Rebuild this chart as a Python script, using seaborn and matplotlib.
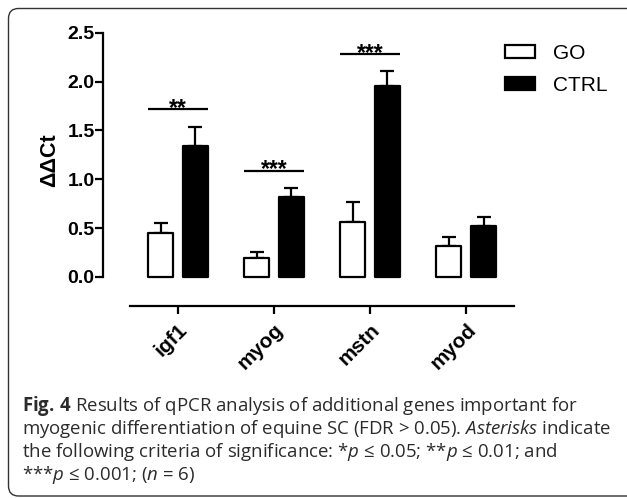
import matplotlib
matplotlib.use("Agg")
import matplotlib.pyplot as plt
import matplotlib.transforms as mtransforms
from matplotlib.patches import FancyBboxPatch, Patch
import seaborn as sns
import pandas as pd

# values
genes = ["igf1", "myog", "mstn", "myod"]
groups = ["GO", "CTRL"]
go_mean = [0.45, 0.195, 0.56, 0.32]
go_sem = [0.10, 0.065, 0.21, 0.09]
ctrl_mean = [1.34, 0.82, 1.95, 0.52]
ctrl_sem = [0.20, 0.09, 0.16, 0.09]
sig_genes = ["igf1", "myog", "mstn"]
sig_heights = [1.72, 1.09, 2.28]
sig_labels = ["**", "***", "***"]
y_ticks = [0.0, 0.5, 1.0, 1.5, 2.0, 2.5]

caption_lines = [
    r"$\mathbf{Fig.\,4}$ Results of qPCR analysis of additional genes important for",
    r"myogenic differentiation of equine SC (FDR > 0.05). $\mathit{Asterisks}$ indicate",
    r"the following criteria of significance: *$p$ ≤ 0.05; **$p$ ≤ 0.01; and",
    r"***$p$ ≤ 0.001; ($n$ = 6)",
]

colors = {"GO": "white", "CTRL": "black"}

df = pd.DataFrame({
    "gene": genes * 2,
    "group": ["GO"] * len(genes) + ["CTRL"] * len(genes),
    "value": go_mean + ctrl_mean,
})

sns.set_style("ticks")
plt.rcParams["font.family"] = ["Liberation Sans", "DejaVu Sans"]
plt.rcParams.update({
    "text.color": "black", "axes.labelcolor": "black",
    "xtick.color": "black", "ytick.color": "black", "axes.edgecolor": "black",
    "mathtext.fontset": "custom", "mathtext.rm": "Open Sans",
    "mathtext.it": "Open Sans:italic", "mathtext.bf": "Open Sans:bold",
})

W, H = 627, 498
fig = plt.figure(figsize=(W / 100, H / 100), dpi=100)
ax = fig.add_axes([103 / W, 1 - 306 / H, (620 - 103) / W, (306 - 23) / H])

sns.barplot(data=df, x="gene", y="value", hue="group", order=genes, hue_order=groups,
            palette=colors, saturation=1, edgecolor="black", linewidth=1.6,
            width=0.72, gap=0.28, errorbar=None, legend=False, ax=ax)
for p in ax.patches:
    p.set_joinstyle("round")

# SEM bars (upper side only)
for cont, sems in zip(ax.containers, [go_sem, ctrl_sem]):
    xs = [p.get_x() + p.get_width() / 2 for p in cont]
    tops = [p.get_height() for p in cont]
    ax.errorbar(xs, tops, yerr=[[0] * len(sems), sems], fmt="none", ecolor="black",
                elinewidth=1.6, capsize=5, capthick=1.6, zorder=0.5)

# significance brackets
for g, h, lab in zip(sig_genes, sig_heights, sig_labels):
    i = genes.index(g)
    left = ax.containers[0][i].get_x()
    right = ax.containers[1][i].get_x() + ax.containers[1][i].get_width()
    ax.plot([left, right], [h, h], color="black", lw=1.6, solid_capstyle="butt")
    ax.annotate(lab, ((left + right) / 2, h), xytext=(0, -4), textcoords="offset points",
                ha="center", va="baseline", fontsize=16.5, fontweight="bold")

ax.set_ylim(-0.297, 2.6)
ax.set_xlim(-0.78, 4.6)
ax.set_yticks(y_ticks)
ax.set_yticklabels([f"{t:.1f}" for t in y_ticks], fontweight="bold", fontsize=14)
sns.despine(ax=ax)
ax.spines["left"].set_bounds(0, 2.5)
ax.spines["bottom"].set_bounds(-0.5, 3.5)
for s in ["left", "bottom"]:
    ax.spines[s].set_linewidth(1.6)
ax.tick_params(width=1.6, length=5.5, pad=0.5)
ax.tick_params(axis="x", length=6, pad=4)
ax.set_xticks(range(len(genes)))
ax.set_xticklabels(genes, rotation=45, ha="right", rotation_mode="anchor",
                   fontweight="bold", fontsize=15)
ax.set_xlabel("")
ax.set_ylabel("ΔΔCt", fontweight="bold", fontsize=15.5)
ax.yaxis.set_label_coords(-0.082, 0.516)

handles = [Patch(facecolor=colors[g], edgecolor="black", linewidth=1.6, label=g) for g in groups]
fig.legend(handles=handles, loc="upper left", bbox_to_anchor=(505 / W, 1 - 44 / H),
           frameon=False, fontsize=15, handlelength=1.45, handleheight=0.6,
           handletextpad=0.85, labelspacing=0.62, borderpad=0, borderaxespad=0)

# rounded frame around the figure panel
box = FancyBboxPatch((8.5, 2), 660, H - 10.5, boxstyle="round,pad=0,rounding_size=10",
                     transform=mtransforms.IdentityTransform(), facecolor="none",
                     edgecolor="#333333", linewidth=1.0)
fig.add_artist(box)

for k, line in enumerate(caption_lines):
    fig.text(22 / W, 1 - (411 + 23 * k) / H, line, ha="left", va="baseline",
             fontsize=13.4, color="#2b2b2b", family=["Open Sans", "DejaVu Sans"])

fig.savefig("out.png", dpi=100)
